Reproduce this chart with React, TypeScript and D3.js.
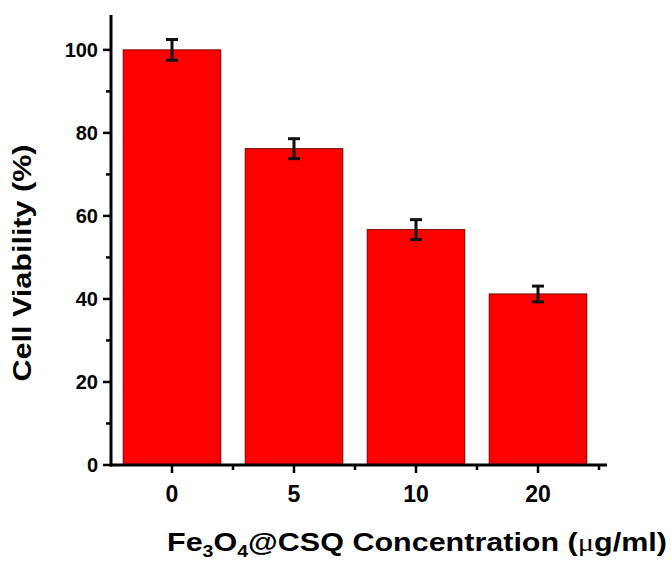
import React from 'react';
import * as d3 from 'd3';

const categories = ['0', '5', '10', '20'];
const viability = [100, 76.2, 56.7, 41.2];
const errors = [2.5, 2.4, 2.4, 1.9];
const yTicks = [0, 20, 40, 60, 80, 100];
const yMinorTicks = [10, 30, 50, 70, 90];

const W = 672;
const H = 563;
const left = 111;
const right = 599;
const top = 15;
const bottom = 465;

export default function App() {
  const x = d3.scaleBand().domain(categories).range([left, right]).paddingInner(0.2).paddingOuter(0.1);
  const y = d3.scaleLinear().domain([0, 108.4]).range([bottom, top]);
  const step = x.step();
  const minorX = categories.map((_, i) => left + step * (i + 1));
  const font = '"Liberation Sans", Arial, sans-serif';

  return (
    <svg width={W} height={H} style={{ position: 'absolute', left: 0, top: 0, background: '#fff' }}>
      {/* bars */}
      {categories.map((c, i) => (
        <rect
          key={c}
          x={x(c)}
          y={y(viability[i])}
          width={x.bandwidth()}
          height={y(0) - y(viability[i])}
          fill="#ff0000"
          stroke="#7a0000"
          strokeWidth={1}
        />
      ))}
      {/* error bars */}
      {categories.map((c, i) => {
        const cx = (x(c) as number) + x.bandwidth() / 2;
        const y1 = y(viability[i] + errors[i]);
        const y2 = y(viability[i] - errors[i]);
        return (
          <g key={'e' + c} stroke="#111" strokeWidth={3}>
            <line x1={cx} x2={cx} y1={y1} y2={y2} />
            <line x1={cx - 6} x2={cx + 6} y1={y1} y2={y1} />
            <line x1={cx - 6} x2={cx + 6} y1={y2} y2={y2} />
          </g>
        );
      })}
      {/* y axis */}
      <line x1={left} x2={left} y1={top} y2={bottom + 1.5} stroke="#000" strokeWidth={3} />
      {yTicks.map((t) => (
        <g key={t}>
          <line x1={left - 8} x2={left} y1={y(t)} y2={y(t)} stroke="#000" strokeWidth={2.5} />
          <text x={left - 13} y={y(t)} dy="0.36em" textAnchor="end" fontFamily={font} fontWeight="bold" fontSize={20}>
            {t}
          </text>
        </g>
      ))}
      {yMinorTicks.map((t) => (
        <line key={t} x1={left - 5} x2={left} y1={y(t)} y2={y(t)} stroke="#000" strokeWidth={2.5} />
      ))}
      {/* x axis */}
      <line x1={left - 1.5} x2={607} y1={bottom} y2={bottom} stroke="#000" strokeWidth={3} />
      {categories.map((c) => {
        const cx = (x(c) as number) + x.bandwidth() / 2;
        return (
          <g key={'x' + c}>
            <line x1={cx} x2={cx} y1={bottom} y2={bottom + 8} stroke="#000" strokeWidth={2.5} />
            <text x={cx} y={502} textAnchor="middle" fontFamily={font} fontWeight="bold" fontSize={23}>
              {c}
            </text>
          </g>
        );
      })}
      {minorX.map((mx) => (
        <line key={mx} x1={mx} x2={mx} y1={bottom} y2={bottom + 5} stroke="#000" strokeWidth={2.5} />
      ))}
      {/* axis titles */}
      <text
        transform={`translate(31,263) rotate(-90)`}
        textAnchor="middle"
        fontFamily={font}
        fontWeight="bold"
        fontSize={25}
        textLength={237}
        lengthAdjust="spacingAndGlyphs"
      >
        Cell Viability (%)
      </text>
      <text
        x={167}
        y={551}
        fontFamily={font}
        fontWeight="bold"
        fontSize={25}
        textLength={500}
        lengthAdjust="spacingAndGlyphs"
      >
        Fe<tspan fontSize={16} dy={6}>3</tspan>
        <tspan dy={-6}>O</tspan>
        <tspan fontSize={16} dy={6}>4</tspan>
        <tspan dy={-6}>@CSQ Concentration (</tspan>
        <tspan fontWeight="normal" fontFamily='"Liberation Serif", serif'>μ</tspan>
        <tspan>g/ml)</tspan>
      </text>
    </svg>
  );
}
